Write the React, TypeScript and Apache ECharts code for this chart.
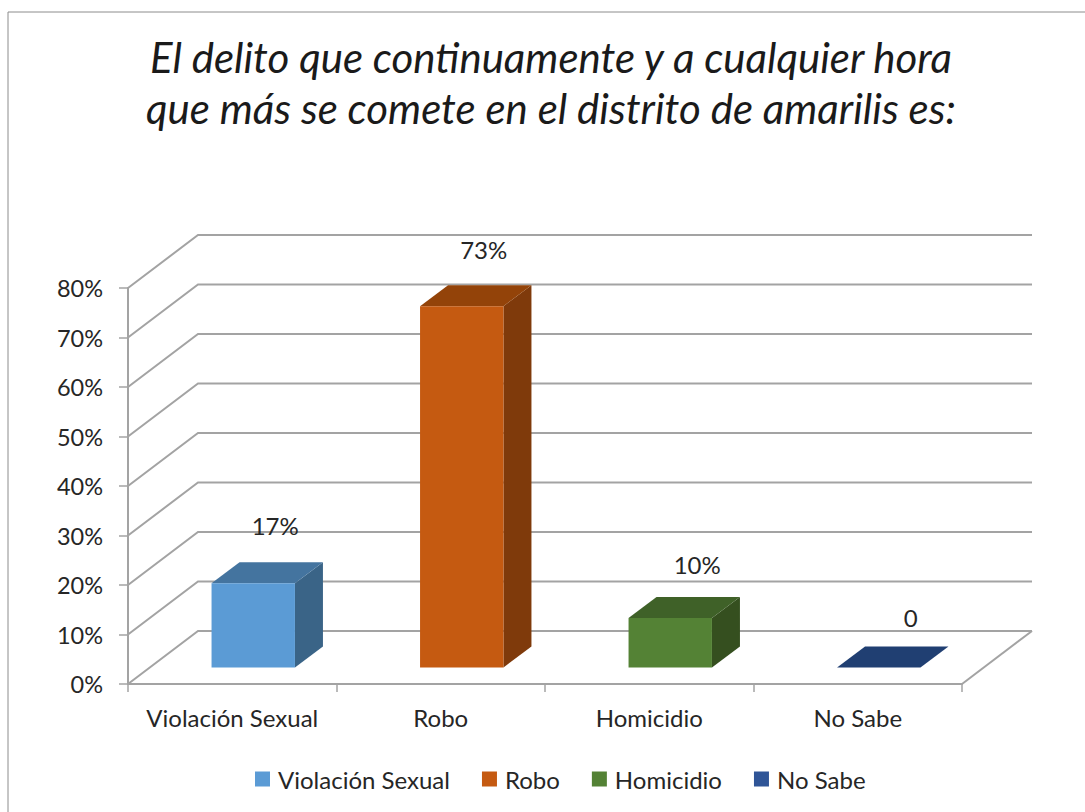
import React, { useEffect, useRef } from "react";
import * as echarts from "echarts";

const titleLines = [
  "El delito que continuamente y a cualquier hora",
  "que más se comete en el distrito de amarilis es:",
];
const categories = ["Violación Sexual", "Robo", "Homicidio", "No Sabe"];
const values = [17, 73, 10, 0];
const dataLabels = ["17%", "73%", "10%", "0"];
const yTicks = [0, 10, 20, 30, 40, 50, 60, 70, 80];
const frontColors = ["#5B9BD5", "#C55A11", "#548235", "#2F5597"];
const topColors = ["#44749F", "#934309", "#3F6128", "#203F72"];
const sideColors = ["#3A6487", "#7F3A0B", "#354F1F", "#1B3560"];

const FONT = "Lato";
const TEXT = "#262626";
const AXIS = "#A3A3A3";
const DEPTH_X = 70;
const DEPTH_Y = 53;
const labelLift = [37, 36, 33, 29];
const labelNudge = [0, 0, 5, 10];

function renderGrid(params: any, api: any) {
  const cs = params.coordSys;
  const v = api.value(1);
  const y = api.coord([0, v])[1];
  const left = cs.x;
  const right = cs.x + cs.width;
  const children: any[] = [
    {
      type: "polyline",
      shape: { points: [[left, y], [left + DEPTH_X, y - DEPTH_Y], [right + DEPTH_X, y - DEPTH_Y]] },
      style: { stroke: AXIS, lineWidth: 2, fill: "none" },
    },
  ];
  if (v === 0) {
    children.push({
      type: "line",
      shape: { x1: right, y1: y, x2: right + DEPTH_X, y2: y - DEPTH_Y },
      style: { stroke: AXIS, lineWidth: 2 },
    });
  }
  return { type: "group", children };
}

function renderBar(params: any, api: any) {
  const i = api.value(0);
  const base = api.coord([i, 0]);
  const top = api.coord([i, api.value(1)]);
  const band = api.size([1, 0])[0];
  const w = band * 0.4;
  const shiftX = 21;
  const shiftY = -16.5;
  const dx = 28;
  const dy = -21;
  const x0 = base[0] + shiftX - w / 2;
  const x1 = x0 + w;
  const yb = base[1] + shiftY;
  const yt = top[1] + shiftY;
  return {
    type: "group",
    children: [
      {
        type: "polygon",
        shape: { points: [[x1, yb], [x1 + dx, yb + dy], [x1 + dx, yt + dy], [x1, yt]] },
        style: { fill: sideColors[i] },
      },
      {
        type: "polygon",
        shape: { points: [[x0, yt], [x0 + dx, yt + dy], [x1 + dx, yt + dy], [x1, yt]] },
        style: { fill: topColors[i] },
      },
      {
        type: "rect",
        shape: { x: x0, y: yt, width: w, height: yb - yt },
        style: { fill: frontColors[i] },
      },
      {
        type: "text",
        style: {
          x: base[0] + shiftX + 22 + labelNudge[i],
          y: yt + dy - labelLift[i],
          text: dataLabels[i],
          fill: TEXT,
          font: `24px ${FONT}`,
          align: "center",
          verticalAlign: "middle",
        },
      },
    ],
  };
}

export default function App() {
  const ref = useRef<HTMLDivElement>(null);
  useEffect(() => {
    const chart = echarts.init(ref.current!, null, { renderer: "svg" });
    chart.setOption({
      animation: false,
      backgroundColor: "#ffffff",
      textStyle: { fontFamily: FONT },
      title: {
        text: titleLines.join("\n"),
        left: 546,
        top: 26,
        textAlign: "center",
        textStyle: {
          fontFamily: FONT,
          fontStyle: "italic",
          fontWeight: "normal",
          fontSize: 42,
          lineHeight: 51,
          color: "#1A1A1A",
        },
      },
      graphic: [
        {
          type: "rect",
          z: -1,
          silent: true,
          shape: { x: 8, y: 12, width: 1100, height: 820 },
          style: { fill: "none", stroke: "#8C8C8C", lineWidth: 1 },
        },
      ],
      legend: {
        data: categories,
        left: 250,
        top: 762,
        icon: "rect",
        itemWidth: 15,
        itemHeight: 15,
        itemGap: 32,
        selectedMode: false,
        textStyle: { fontFamily: FONT, fontSize: 24, color: TEXT, padding: [0, 0, 0, 3] },
      },
      grid: { left: 128, right: 123, top: 288, bottom: 128 },
      xAxis: {
        type: "category",
        data: categories,
        boundaryGap: true,
        axisLine: { show: true, lineStyle: { color: AXIS, width: 2 } },
        axisTick: { show: true, interval: 0, alignWithLabel: false, length: 8, lineStyle: { color: AXIS, width: 1.5 } },
        axisLabel: { interval: 0, hideOverlap: false, fontFamily: FONT, fontSize: 24, color: TEXT, margin: 21 },
      },
      yAxis: {
        type: "value",
        min: 0,
        max: 80,
        interval: 10,
        axisLine: { show: true, lineStyle: { color: AXIS, width: 2 } },
        axisTick: { show: true, length: 9, lineStyle: { color: AXIS, width: 1.5 } },
        splitLine: { show: false },
        axisLabel: { formatter: "{value}%", fontFamily: FONT, fontSize: 23.5, color: TEXT, margin: 25 },
      },
      series: [
        {
          type: "custom",
          name: "grid",
          silent: true,
          renderItem: renderGrid,
          data: yTicks.map((v) => [0, v]),
          z: 1,
        },
        ...categories.map((name, i) => ({
          type: "custom",
          name,
          renderItem: renderBar,
          itemStyle: { color: frontColors[i] },
          data: [[i, values[i]]],
          z: 2,
        })),
      ],
    });
    return () => chart.dispose();
  }, []);
  return (
    <div
      ref={ref}
      style={{ position: "fixed", left: 0, top: 0, width: 1085, height: 812 }}
    />
  );
}
